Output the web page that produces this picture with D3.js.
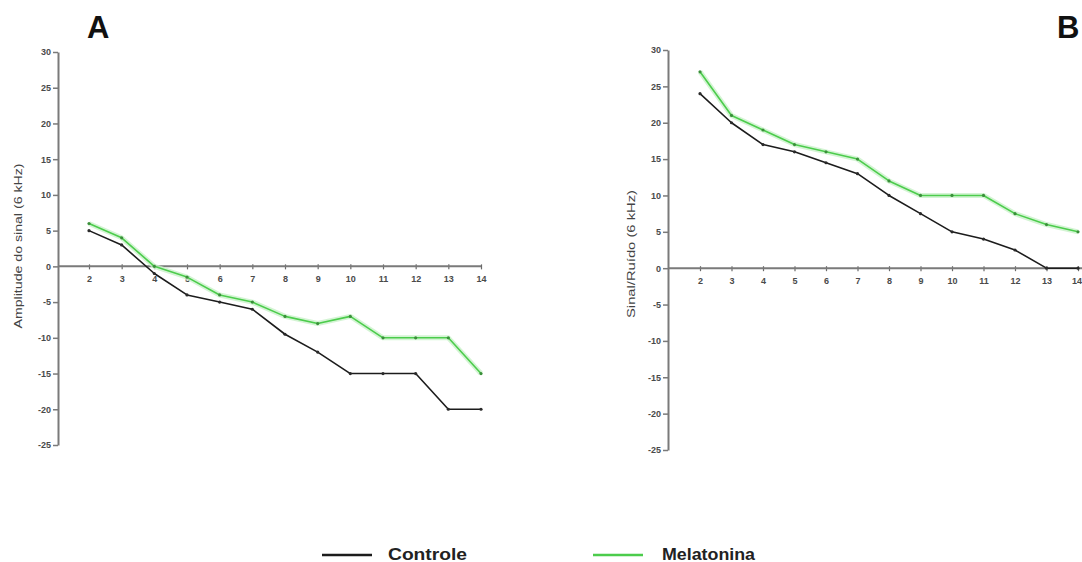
<!DOCTYPE html>
<html>
<head>
<meta charset="utf-8">
<script src="https://cdn.jsdelivr.net/npm/d3@7"></script>
<style>
  html, body { margin: 0; padding: 0; background: #fff; }
  svg { display: block; }
</style>
</head>
<body>
<svg id="chart" width="1082" height="562"></svg>
<script>
// Frequency steps along the x axis
const steps = [2, 3, 4, 5, 6, 7, 8, 9, 10, 11, 12, 13, 14];
const yTicks = [-25, -20, -15, -10, -5, 0, 5, 10, 15, 20, 25, 30];

// Panel A: signal amplitude (6 kHz)
const amplitudeControle   = [5, 3, -1, -4, -5, -6, -9.5, -12, -15, -15, -15, -20, -20];
const amplitudeMelatonina = [6, 4, 0, -1.5, -4, -5, -7, -8, -7, -10, -10, -10, -15];

// Panel B: signal/noise (6 kHz)
const snrControle   = [24, 20, 17, 16, 14.5, 13, 10, 7.5, 5, 4, 2.5, 0, 0];
const snrMelatonina = [27, 21, 19, 17, 16, 15, 12, 10, 10, 10, 7.5, 6, 5];

const seriesNames = ["Controle", "Melatonina"];
const lineColor = { Controle: "#1c1c1c", Melatonina: "#4ccc4c" };
const dotColor  = { Controle: "#2a2a2a", Melatonina: "#3a8f3a" };

const svg = d3.select("#chart");
const font = "'Liberation Sans', Arial, sans-serif";
const plain = d => String(d); // plain hyphen for negatives

function panel(cfg) {
  const g = svg.append("g");
  const x = d3.scaleLinear().domain([2, 14]).range(cfg.xRange);
  const y = d3.scaleLinear().domain([-25, 30]).range(cfg.yRange);

  // y axis
  const yAxis = g.append("g")
    .attr("transform", `translate(${cfg.axisX},0)`)
    .call(d3.axisLeft(y).tickValues(yTicks).tickFormat(plain)
      .tickSize(5).tickSizeOuter(0).tickPadding(2));
  yAxis.select(".domain").attr("stroke", "#7a7a7a").attr("stroke-width", 2);
  yAxis.selectAll(".tick line").attr("stroke", "#7a7a7a").attr("stroke-width", 1.5);
  yAxis.selectAll(".tick text")
    .attr("fill", "#4a4a4a").style("font", `bold 9px ${font}`);

  // x axis along the zero line
  const xAxis = g.append("g")
    .attr("transform", `translate(0,${y(0)})`)
    .call(d3.axisBottom(x).tickValues(steps).tickFormat(plain).tickSize(3).tickPadding(6));
  xAxis.select(".domain").remove();
  xAxis.append("line")
    .attr("x1", cfg.axisX).attr("x2", cfg.xEnd)
    .attr("stroke", "#7a7a7a").attr("stroke-width", 2);
  xAxis.selectAll(".tick line").attr("stroke", "#6a6a6a").attr("stroke-width", 1.2)
    .attr("y1", -2);
  xAxis.selectAll(".tick text")
    .attr("fill", "#4a4a4a").style("font", `bold 9px ${font}`);
  if (cfg.lastLabelEnd) {
    // keep the last step label inside the page edge
    xAxis.selectAll(".tick text").filter(d => d === 14)
      .attr("text-anchor", "end").attr("x", 3.5);
  }

  // y axis title
  g.append("text")
    .attr("transform", `translate(${cfg.labelX},${cfg.labelY}) rotate(-90)`)
    .attr("text-anchor", "middle")
    .attr("fill", "#444")
    .attr("textLength", cfg.labelLen)
    .attr("lengthAdjust", "spacingAndGlyphs")
    .style("font", `11px ${font}`)
    .text(cfg.label);

  // panel letter
  g.append("text")
    .attr("x", cfg.letterX).attr("y", 38)
    .attr("fill", "#111")
    .style("font", `bold 31px ${font}`)
    .text(cfg.letter);

  const line = d3.line().x((d, i) => x(steps[i])).y(d => y(d));

  const data = [
    { name: "Controle", values: cfg.controle },
    { name: "Melatonina", values: cfg.melatonina }
  ];

  data.forEach(s => {
    if (s.name === "Melatonina") {
      g.append("path").datum(s.values)
        .attr("d", line).attr("fill", "none")
        .attr("stroke", "#c9f1c9").attr("stroke-width", 5)
        .attr("stroke-linejoin", "round").attr("opacity", 0.8);
    }
    g.append("path").datum(s.values)
      .attr("d", line).attr("fill", "none")
      .attr("stroke", lineColor[s.name]).attr("stroke-width", 1.6)
      .attr("stroke-linejoin", "round");
    g.selectAll(null).data(s.values).enter().append("circle")
      .attr("cx", (d, i) => x(steps[i])).attr("cy", d => y(d))
      .attr("r", 1.6).attr("fill", dotColor[s.name]);
  });
}

panel({
  xRange: [89, 481], yRange: [445, 52], axisX: 58, xEnd: 481,
  label: "Amplitude do sinal (6 kHz)", labelX: 22, labelY: 246, labelLen: 165,
  letter: "A", letterX: 87,
  controle: amplitudeControle, melatonina: amplitudeMelatonina
});

panel({
  xRange: [700, 1078], yRange: [450, 50], axisX: 668, xEnd: 1082,
  label: "Sinal/Ruído (6 kHz)", labelX: 635, labelY: 254, labelLen: 128,
  letter: "B", letterX: 1057, lastLabelEnd: true,
  controle: snrControle, melatonina: snrMelatonina
});

// legend
const legend = svg.append("g");
const legendItems = [
  { name: seriesNames[0], x1: 322, x2: 372, tx: 388, len: 79 },
  { name: seriesNames[1], x1: 593, x2: 643, tx: 662, len: 93 }
];
legendItems.forEach(it => {
  legend.append("line")
    .attr("x1", it.x1).attr("x2", it.x2).attr("y1", 555).attr("y2", 555)
    .attr("stroke", lineColor[it.name]).attr("stroke-width", 2.5);
  legend.append("text")
    .attr("x", it.tx).attr("y", 559.5)
    .attr("fill", "#222")
    .attr("textLength", it.len).attr("lengthAdjust", "spacingAndGlyphs")
    .style("font", `bold 16px ${font}`)
    .text(it.name);
});
</script>
</body>
</html>
